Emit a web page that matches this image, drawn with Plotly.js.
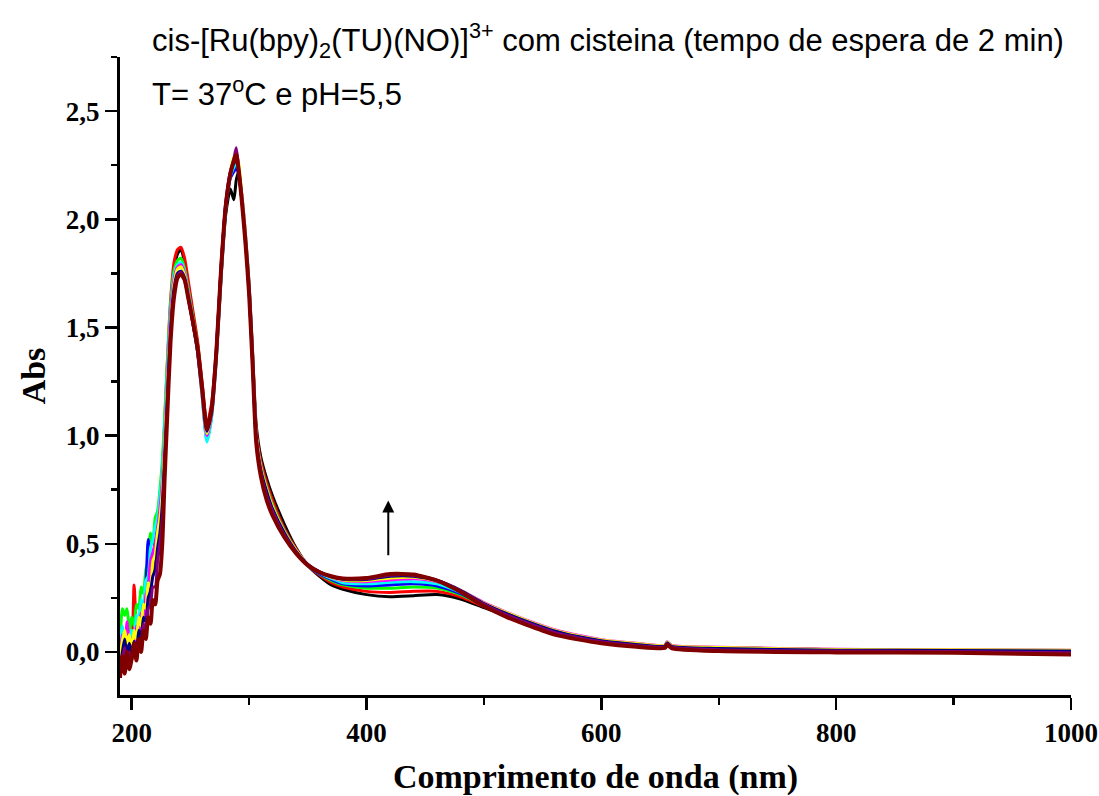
<!DOCTYPE html>
<html>
<head>
<meta charset="utf-8">
<script src="https://cdn.plot.ly/plotly-3.0.1.min.js"></script>
<style>html,body{margin:0;padding:0;background:#fff;}#chart{width:1099px;height:796px;}</style>
</head>
<body>
<div id="chart"></div>
<script>
// Wavelength grid (nm)
const wavelengths = [190,192,194,196,198,200,202,204,206,208,210,212,214,216,218,220,222,224,226,228,230,233,236,239,242,245,248,252,256,260,264,268,272,276,280,284,287,289,291,294,297,300,303,306,310,315,320,330,340,350,360,370,380,400,420,440,460,480,500,520,540,560,580,600,630,654,656,660,700,800,900,1000];

// Absorbance spectra (successive scans)
const absBlack   = [-0.05,0.05,-0.02,0.08,0.0,0.04,0.1,0.05,0.14,0.1,0.2,0.18,0.3,0.28,0.4,0.42,0.55,0.62,0.78,1.0,1.22,1.55,1.76,1.84,1.86,1.80,1.70,1.56,1.42,1.22,1.04,1.13,1.36,1.72,2.02,2.14,2.09,2.18,2.22,2.10,1.92,1.70,1.38,1.05,0.90,0.80,0.72,0.59,0.48,0.40,0.35,0.31,0.29,0.265,0.255,0.26,0.265,0.245,0.205,0.165,0.125,0.09,0.068,0.05,0.035,0.028,0.04,0.027,0.02,0.01,0.008,0.006];
const absRed     = [-0.08,0.02,0.08,-0.03,0.06,0.02,0.31,0.12,0.08,0.2,0.15,0.25,0.22,0.38,0.35,0.5,0.55,0.68,0.82,1.05,1.3,1.62,1.8,1.86,1.87,1.82,1.72,1.58,1.44,1.24,1.05,1.15,1.40,1.78,2.06,2.2,2.24,2.26,2.22,2.08,1.9,1.68,1.36,1.03,0.88,0.78,0.70,0.57,0.475,0.40,0.355,0.32,0.30,0.28,0.275,0.28,0.28,0.255,0.21,0.168,0.128,0.092,0.07,0.05,0.035,0.028,0.04,0.027,0.02,0.01,0.008,0.005];
const absGreen   = [0.02,0.2,0.17,0.2,0.1,0.16,0.12,0.22,0.2,0.3,0.27,0.38,0.42,0.55,0.5,0.62,0.65,0.75,0.88,1.08,1.3,1.6,1.76,1.81,1.82,1.77,1.68,1.55,1.42,1.21,1.01,1.12,1.38,1.76,2.05,2.2,2.23,2.25,2.22,2.08,1.9,1.67,1.35,1.0,0.86,0.76,0.68,0.56,0.47,0.40,0.36,0.33,0.31,0.295,0.295,0.30,0.295,0.265,0.215,0.17,0.13,0.094,0.07,0.052,0.036,0.028,0.042,0.027,0.02,0.01,0.008,0.006];
const absBlue    = [-0.04,0.1,0.04,0.12,0.02,0.08,0.05,0.15,0.1,0.22,0.2,0.3,0.52,0.4,0.45,0.5,0.58,0.68,0.8,1.0,1.22,1.55,1.72,1.78,1.79,1.75,1.66,1.53,1.39,1.18,0.98,1.09,1.36,1.74,2.04,2.19,2.22,2.24,2.21,2.08,1.9,1.67,1.34,1.0,0.85,0.75,0.67,0.555,0.465,0.40,0.36,0.335,0.315,0.305,0.31,0.315,0.305,0.27,0.218,0.172,0.132,0.095,0.071,0.052,0.036,0.028,0.045,0.027,0.02,0.01,0.009,0.007];
const absCyan    = [0.0,0.12,0.06,0.1,0.05,0.1,0.07,0.17,0.13,0.24,0.22,0.33,0.35,0.48,0.52,0.58,0.62,0.72,0.84,1.04,1.26,1.57,1.74,1.79,1.80,1.76,1.67,1.54,1.40,1.18,0.97,1.08,1.35,1.74,2.05,2.2,2.24,2.26,2.23,2.1,1.92,1.68,1.35,1.0,0.85,0.75,0.67,0.555,0.465,0.40,0.365,0.34,0.32,0.315,0.322,0.325,0.315,0.275,0.22,0.174,0.134,0.097,0.072,0.053,0.037,0.029,0.045,0.028,0.02,0.01,0.009,0.007];
const absMagenta = [-0.06,0.08,0.0,0.14,0.03,0.06,0.02,0.12,0.08,0.18,0.14,0.26,0.3,0.42,0.46,0.5,0.57,0.66,0.78,0.98,1.2,1.54,1.72,1.78,1.79,1.75,1.66,1.53,1.39,1.19,1.00,1.10,1.37,1.76,2.07,2.22,2.27,2.30,2.25,2.1,1.92,1.68,1.35,1.0,0.85,0.75,0.67,0.555,0.47,0.405,0.37,0.345,0.33,0.325,0.333,0.338,0.325,0.285,0.228,0.182,0.14,0.103,0.077,0.057,0.04,0.03,0.047,0.03,0.022,0.012,0.01,0.008];
const absYellow  = [-0.03,0.05,0.1,0.04,0.08,0.0,0.1,0.06,0.16,0.12,0.22,0.2,0.32,0.3,0.42,0.45,0.55,0.62,0.74,0.95,1.17,1.5,1.7,1.77,1.78,1.74,1.65,1.52,1.39,1.19,1.01,1.11,1.37,1.75,2.06,2.22,2.29,2.28,2.26,2.1,1.92,1.68,1.35,1.0,0.85,0.75,0.67,0.555,0.47,0.405,0.37,0.345,0.333,0.33,0.342,0.345,0.328,0.285,0.226,0.18,0.138,0.101,0.075,0.055,0.039,0.03,0.046,0.029,0.021,0.011,0.01,0.008];
const absNavy    = [-0.08,0.0,0.06,-0.02,0.04,-0.01,0.05,0.0,0.1,0.06,0.16,0.14,0.25,0.28,0.35,0.38,0.48,0.55,0.68,0.9,1.13,1.48,1.68,1.75,1.76,1.73,1.64,1.52,1.39,1.2,1.02,1.11,1.38,1.76,2.06,2.21,2.26,2.27,2.23,2.08,1.9,1.67,1.34,0.99,0.84,0.74,0.66,0.55,0.465,0.405,0.37,0.347,0.336,0.335,0.35,0.35,0.33,0.285,0.224,0.176,0.134,0.097,0.071,0.052,0.035,0.027,0.042,0.026,0.016,0.008,0.007,0.004];
const absPurple  = [-0.1,-0.03,0.02,-0.06,0.0,-0.04,0.03,-0.02,0.06,0.04,0.13,0.1,0.2,0.22,0.3,0.3,0.42,0.5,0.62,0.86,1.1,1.46,1.66,1.74,1.755,1.72,1.64,1.52,1.4,1.21,1.03,1.12,1.39,1.77,2.07,2.22,2.28,2.33,2.24,2.08,1.89,1.66,1.33,0.98,0.83,0.72,0.65,0.54,0.46,0.402,0.368,0.348,0.338,0.338,0.355,0.355,0.332,0.283,0.22,0.17,0.128,0.09,0.066,0.047,0.03,0.023,0.038,0.022,0.01,0.004,0.002,-0.004];
const absMaroon  = [-0.12,-0.02,-0.1,0.0,-0.08,-0.03,0.04,-0.04,0.06,0.0,0.1,0.06,0.16,0.13,0.24,0.22,0.33,0.36,0.5,0.8,1.06,1.43,1.64,1.73,1.745,1.72,1.64,1.53,1.41,1.22,1.03,1.12,1.38,1.76,2.06,2.21,2.27,2.30,2.23,2.07,1.88,1.65,1.32,0.97,0.81,0.70,0.63,0.53,0.455,0.40,0.368,0.35,0.34,0.342,0.36,0.358,0.33,0.278,0.212,0.16,0.118,0.08,0.058,0.04,0.024,0.018,0.033,0.017,0.004,-0.002,-0.004,-0.012];

const seriesValues = [absBlack,absRed,absGreen,absBlue,absCyan,absMagenta,absYellow,absNavy,absPurple,absMaroon];
const seriesColors = ['#000000','#FF0000','#00FF00','#0000FF','#00FFFF','#FF00FF','#FFFF00','#000080','#800080','#800000'];
const seriesWidths = [3,3,3,3,3,3,3,3,3,4];

const xTickVals = [200,400,600,800,1000];
const xTickText = ['200','400','600','800','1000'];
const yTickVals = [0,0.5,1.0,1.5,2.0,2.5];
const yTickText = ['0,0','0,5','1,0','1,5','2,0','2,5'];

const traces = seriesValues.map((vals,i)=>({
  x: wavelengths, y: vals, type:'scatter', mode:'lines',
  line:{color:seriesColors[i], width:seriesWidths[i], shape:'spline', smoothing:0.6},
  showlegend:false, hoverinfo:'skip'
}));

const tickFont = {family:'Liberation Serif, Times New Roman, serif', size:27, color:'#000', weight:'bold'};
const titleFont = {family:'Liberation Serif, Times New Roman, serif', size:34, color:'#000', weight:'bold'};

const layout = {
  width:1099, height:796,
  paper_bgcolor:'#ffffff', plot_bgcolor:'#ffffff',
  margin:{l:120, r:28, t:57, b:101},
  xaxis:{
    range:[190,1000], showgrid:false, zeroline:false,
    showline:true, linecolor:'#000', linewidth:3,
    ticks:'outside', ticklen:12, tickwidth:2.5, tickcolor:'#000',
    tickmode:'array', tickvals:xTickVals, ticktext:xTickText,
    tickfont:tickFont,
    minor:{ticks:'outside', ticklen:7, tickwidth:2.5, tickcolor:'#000', tick0:0, dtick:100, showgrid:false},
    title:{text:'Comprimento de onda (nm)', font:titleFont, standoff:18}
  },
  yaxis:{
    range:[-0.199,2.75], showgrid:false, zeroline:false,
    showline:true, linecolor:'#000', linewidth:3,
    ticks:'outside', ticklen:12, tickwidth:2.5, tickcolor:'#000',
    tickmode:'array', tickvals:yTickVals, ticktext:yTickText,
    tickfont:tickFont,
    minor:{ticks:'outside', ticklen:6, tickwidth:2.5, tickcolor:'#000', tick0:0, dtick:0.25, showgrid:false},
    title:{text:'Abs', font:titleFont, standoff:10}
  },
  annotations:[
    {xref:'paper', yref:'paper', x:0.0315, y:1.0266, xanchor:'left', yanchor:'middle', showarrow:false,
     text:'cis-[Ru(bpy)<sub>2</sub>(TU)(NO)]<sup>3+</sup> com cisteina (tempo de espera de 2 min)',
     font:{family:'Liberation Sans, Arial, sans-serif', size:31, color:'#000'}},
    {xref:'paper', yref:'paper', x:0.0315, y:0.945, xanchor:'left', yanchor:'middle', showarrow:false,
     text:'T= 37<sup>o</sup>C e pH=5,5',
     font:{family:'Liberation Sans, Arial, sans-serif', size:31, color:'#000'}},
    {xref:'x', yref:'y', x:418.5, y:0.70, axref:'x', ayref:'y', ax:418.5, ay:0.44,
     showarrow:true, arrowhead:2, arrowsize:1.2, arrowwidth:2, arrowcolor:'#000', text:''}
  ]
};

Plotly.newPlot('chart', traces, layout, {displayModeBar:false, staticPlot:true});
</script>
</body>
</html>
